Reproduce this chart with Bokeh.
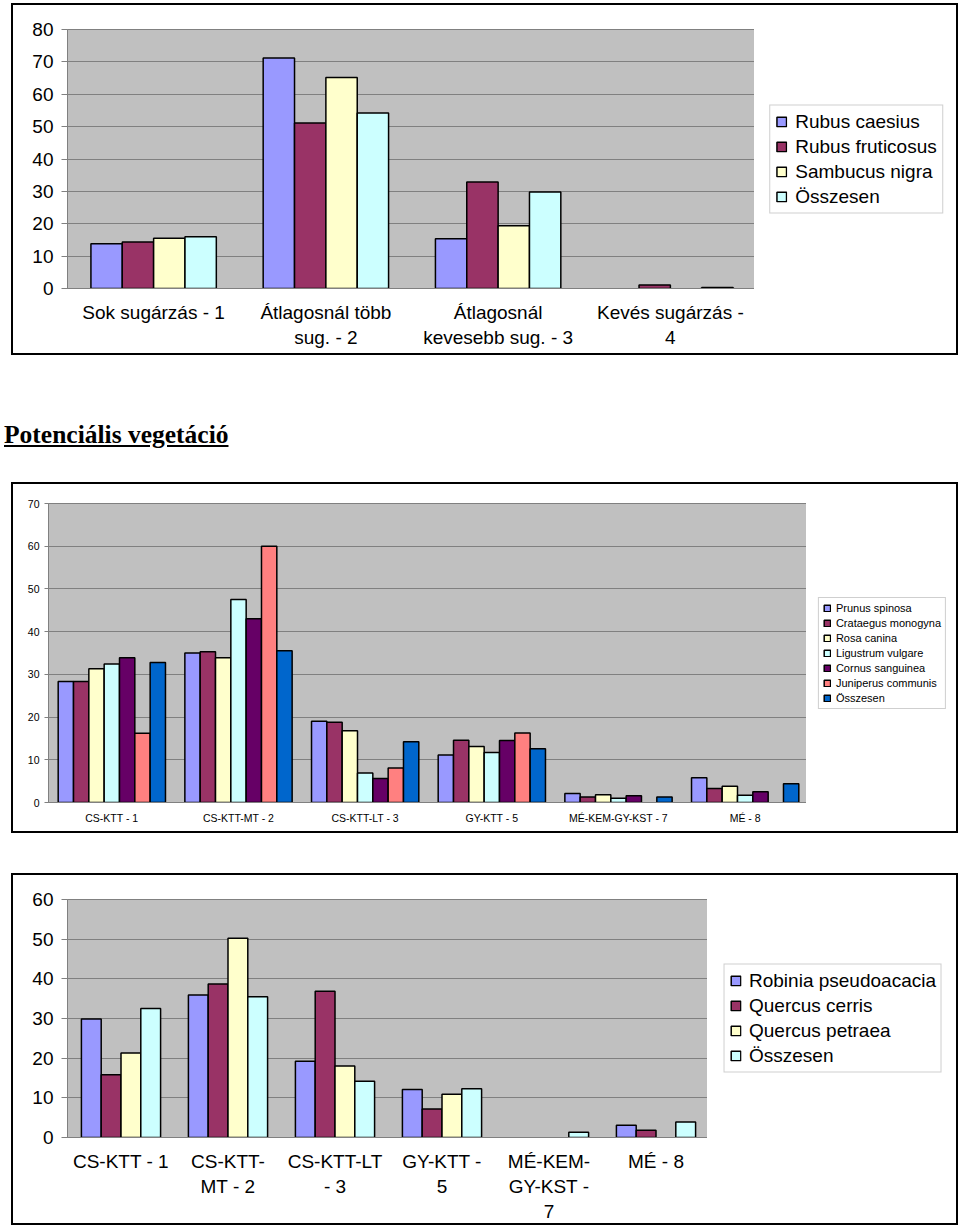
import math
from bokeh.plotting import figure
from bokeh.models import (FactorRange, Range1d, Legend, LegendItem, FixedTicker, Div,
                          ColumnDataSource)
from bokeh.transform import dodge
from bokeh.layouts import row
from bokeh.embed import file_html
from bokeh.resources import INLINE

# ---------------- data: chart 1 ----------------
cats1 = ["Sok sugárzás - 1", "Átlagosnál több\nsug. - 2",
         "Átlagosnál\nkevesebb sug. - 3", "Kevés sugárzás -\n4"]
names1 = ["Rubus caesius", "Rubus fruticosus", "Sambucus nigra", "Összesen"]
rubus_caesius = [13.8, 71.2, 15.4, 0]
rubus_fruticosus = [14.4, 51.1, 32.9, 1.1]
sambucus_nigra = [15.5, 65.2, 19.4, 0]
osszesen1 = [16.0, 54.2, 29.8, 0.3]
yticks1 = [0, 10, 20, 30, 40, 50, 60, 70, 80]

# ---------------- data: chart 2 ----------------
cats2 = ["CS-KTT - 1", "CS-KTT-MT - 2", "CS-KTT-LT - 3", "GY-KTT - 5",
         "MÉ-KEM-GY-KST - 7", "MÉ - 8"]
names2 = ["Prunus spinosa", "Crataegus monogyna", "Rosa canina",
          "Ligustrum vulgare", "Cornus sanguinea", "Juniperus communis", "Összesen"]
prunus = [28.3, 35.0, 19.0, 11.1, 2.1, 5.8]
crataegus = [28.3, 35.3, 18.8, 14.6, 1.3, 3.3]
rosa = [31.3, 33.9, 16.8, 13.1, 1.8, 3.8]
ligustrum = [32.4, 47.5, 6.9, 11.7, 1.0, 1.7]
cornus = [33.9, 43.0, 5.6, 14.5, 1.6, 2.5]
juniperus = [16.2, 60.0, 8.1, 16.3, 0, 0]
osszesen2 = [32.8, 35.5, 14.2, 12.6, 1.3, 4.4]
yticks2 = [0, 10, 20, 30, 40, 50, 60, 70]

# ---------------- data: chart 3 ----------------
cats3 = ["CS-KTT - 1", "CS-KTT-\nMT - 2", "CS-KTT-LT\n- 3", "GY-KTT -\n5",
         "MÉ-KEM-\nGY-KST -\n7", "MÉ - 8"]
names3 = ["Robinia pseudoacacia", "Quercus cerris", "Quercus petraea", "Összesen"]
robinia = [29.9, 35.9, 19.2, 12.1, 0, 3.1]
cerris = [15.8, 38.7, 36.9, 7.2, 0, 1.8]
petraea = [21.3, 50.2, 18.0, 10.9, 0, 0]
osszesen3 = [32.5, 35.5, 14.2, 12.3, 1.3, 3.9]
yticks3 = [0, 10, 20, 30, 40, 50, 60]

title_text = "Potenciális vegetáció"

COLORS = ["#9999FF", "#993366", "#FFFFCC", "#CCFFFF", "#660066", "#FF8080", "#0066CC"]
FONT = "Liberation Sans"
BORDER = "2px solid #000000"


def add_bars(p, cats, series, colors, bar_w, x_range):
    n = len(series)
    for i, (vals, col) in enumerate(zip(series, colors)):
        off = (i - (n - 1) / 2.0) * bar_w
        src = ColumnDataSource(dict(x=list(cats),
                                    top=[v if v else math.nan for v in vals]))
        p.vbar(x=dodge("x", off, range=x_range), top="top", width=bar_w,
               source=src, fill_color=col, line_color="black", line_width=1.5)


def make_chart(cats, series, names, colors, yticks, height, fw, fh, ml, mt, mb, legw,
               bar_w, font_size, legend_font, glyph, label_h, spacing, pad, standoff,
               xl_standoff, yl_standoff, tick_out, margin):
    # ---- main chart ----
    p = figure(x_range=FactorRange(factors=cats, range_padding=0),
               y_range=(yticks[0], yticks[-1]),
               width=fw + ml + 2, height=height, frame_width=fw, frame_height=fh,
               output_backend="svg", toolbar_location=None,
               min_border_left=ml, min_border_right=0,
               min_border_top=mt, min_border_bottom=mb,
               styles={"border": BORDER, "border-right": "none"})
    p.background_fill_color = "#C0C0C0"
    p.border_fill_color = "white"
    p.outline_line_color = "#808080"
    p.outline_line_width = 1
    p.xgrid.grid_line_color = None
    p.ygrid.grid_line_color = "#808080"
    p.ygrid.grid_line_width = 1
    p.yaxis.ticker = FixedTicker(ticks=yticks)
    p.yaxis.minor_tick_line_color = None
    p.yaxis.major_tick_in = 0
    p.yaxis.major_tick_out = tick_out
    p.yaxis.major_tick_line_color = "#808080"
    p.yaxis.axis_line_color = "#808080"
    p.yaxis.major_label_text_font = FONT
    p.yaxis.major_label_text_font_size = font_size
    p.yaxis.major_label_text_color = "black"
    p.yaxis.major_label_standoff = yl_standoff
    p.xaxis.major_tick_line_color = None
    p.xaxis.minor_tick_line_color = None
    p.xaxis.axis_line_color = "#808080"
    p.xaxis.major_label_text_font = FONT
    p.xaxis.major_label_text_font_size = font_size
    p.xaxis.major_label_text_color = "black"
    p.xaxis.major_label_standoff = xl_standoff
    add_bars(p, cats, series, colors, bar_w, p.x_range)

    # ---- legend panel: legend-only renderers styled like the series ----
    q = figure(x_range=Range1d(0, 1), y_range=Range1d(0, 1),
               width=legw + 2, height=height, frame_width=legw, frame_height=fh,
               output_backend="svg", toolbar_location=None,
               x_axis_location=None, y_axis_location=None,
               min_border_left=0, min_border_right=0,
               min_border_top=mt, min_border_bottom=mb,
               styles={"border": BORDER, "border-left": "none"})
    q.grid.visible = False
    q.outline_line_color = None
    q.background_fill_color = "white"
    q.border_fill_color = "white"
    items = []
    for nm, col in zip(names, colors):
        r = q.vbar(x="x", top="top", width=0.1,
                   source=ColumnDataSource(dict(x=[-5.0], top=[math.nan])),
                   fill_color=col, line_color="black", line_width=1.5)
        items.append(LegendItem(label=nm, renderers=[r]))
    leg = Legend(items=items, location="center")
    leg.label_text_font = FONT
    leg.label_text_font_size = legend_font
    leg.label_text_color = "black"
    leg.glyph_width = glyph
    leg.glyph_height = glyph
    leg.label_height = label_h
    leg.label_standoff = standoff
    leg.spacing = spacing
    leg.padding = pad
    leg.margin = 0
    leg.border_line_color = "#A0A0A0"
    leg.border_line_width = 1
    leg.background_fill_color = "white"
    leg.background_fill_alpha = 1
    q.add_layout(leg)
    return row(p, q, spacing=0, margin=margin)


c1 = make_chart(cats1, [rubus_caesius, rubus_fruticosus, sambucus_nigra, osszesen1],
                names1, COLORS[:4], yticks1,
                height=352, fw=687, fh=255, ml=54, mt=24, mb=69, legw=202,
                bar_w=0.182, font_size="19px", legend_font="19px", glyph=12,
                label_h=19, spacing=3, pad=5, standoff=8,
                xl_standoff=7, yl_standoff=8, tick_out=6,
                margin=(3, 0, 0, 11))

title = Div(text="<b><u>" + title_text + "</u></b>", width=400, height=30,
            styles={"font-family": "Liberation Serif", "font-size": "25.5px",
                    "line-height": "1.15", "color": "black"},
            margin=(65, 0, 32, 4))

c2 = make_chart(cats2, [prunus, crataegus, rosa, ligustrum, cornus, juniperus, osszesen2],
                names2, COLORS, yticks2,
                height=351, fw=758, fh=295, ml=35, mt=19, mb=33, legw=150,
                bar_w=0.121, font_size="10.5px", legend_font="11px", glyph=8,
                label_h=12, spacing=3, pad=4, standoff=5,
                xl_standoff=3, yl_standoff=5, tick_out=4,
                margin=(0, 0, 0, 11))

c3 = make_chart(cats3, [robinia, cerris, petraea, osszesen3],
                names3, COLORS[:4], yticks3,
                height=352, fw=640, fh=234, ml=54, mt=24, mb=90, legw=249,
                bar_w=0.185, font_size="19px", legend_font="19px", glyph=12,
                label_h=19, spacing=3, pad=5, standoff=8,
                xl_standoff=7, yl_standoff=8, tick_out=6,
                margin=(40, 0, 0, 11))

open("out.html", "w").write(file_html([c1, title, c2, c3], INLINE))
